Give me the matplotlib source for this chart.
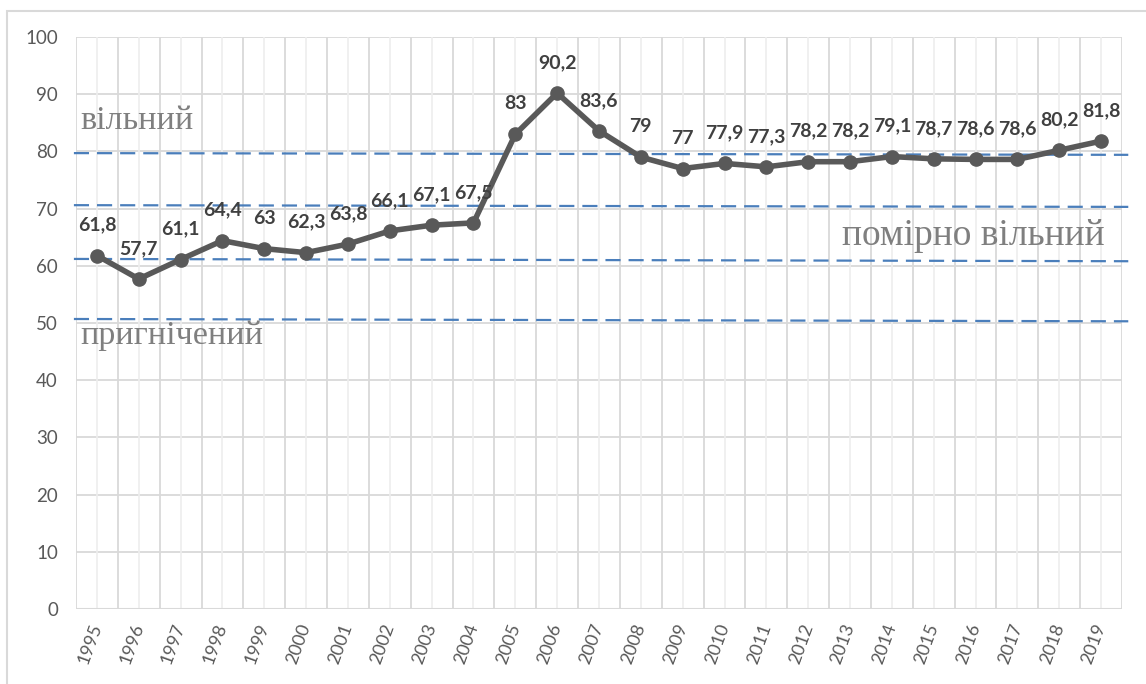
import matplotlib
matplotlib.use('Agg')
import matplotlib.pyplot as plt
from matplotlib.patches import Rectangle

# дані
years = [str(y) for y in range(1995, 2020)]
values = [61.8, 57.7, 61.1, 64.4, 63, 62.3, 63.8, 66.1, 67.1, 67.5,
          83, 90.2, 83.6, 79, 77, 77.9, 77.3, 78.2, 78.2, 79.1,
          78.7, 78.6, 78.6, 80.2, 81.8]
# межі зон (ліворуч, праворуч) - злегка нахилені, як на оригіналі
zone_lines = [(79.7, 79.4), (70.6, 70.3), (61.2, 60.8), (50.7, 50.3)]
zone_names = ['вільний', 'помірно вільний', 'пригнічений']
zone_pos = [(-0.4, 85.4, 'left', 24.5), (24.09, 65.2, 'right', 27),
            (-0.4, 47.8, 'left', 24.5)]

W, H = 1146, 684
fig = plt.figure(figsize=(W / 100, H / 100), dpi=100)
ax = fig.add_axes([76 / W, 1 - 609 / H, (1122 - 76) / W, (609 - 37) / H])

# рамка навколо діаграми
fig.patches.append(Rectangle((7 / W, -0.1), 1.2, 1 - 11 / H + 0.1,
                             transform=fig.transFigure, fill=False,
                             edgecolor='#d9d9d9', linewidth=1.5))

n = len(years)
x = list(range(n))
ax.set_xlim(-0.5, n - 0.5)
ax.set_ylim(0, 100)
ax.set_yticks(range(0, 101, 10))
ax.set_xticks(x)
ax.set_xticklabels(years)

# сітка
for v in range(10, 101, 10):
    ax.axhline(v, color='#d9d9d9', lw=1.3, zorder=0)
for i in range(-1, n):
    ax.axvline(i + 0.5, color='#d9d9d9', lw=1.3, zorder=0)
for i in x:
    ax.axvline(i, color='#eeeeee', lw=1.2, zorder=0)
ax.axhline(0, color='#d9d9d9', lw=1.5, zorder=0)

for s in ax.spines.values():
    s.set_visible(False)
ax.tick_params(axis='both', which='both', length=0)
ax.tick_params(axis='y', labelsize=13.5, labelcolor='#595959', pad=13)
ax.tick_params(axis='x', labelsize=13, labelcolor='#595959', pad=11)
for lab in ax.get_yticklabels() + ax.get_xticklabels():
    lab.set_family('Lato')
for lab in ax.get_xticklabels():
    lab.set_rotation(70)
    lab.set_ha('right')
    lab.set_va('center')
    lab.set_rotation_mode('anchor')

# пунктирні межі зон
for left, right in zone_lines:
    ax.plot([-0.55, n - 0.35], [left, right], color='#4a7ebb', lw=1.6,
            dashes=(6.8, 3.6), clip_on=False, zorder=1)

# назви зон
for name, (px, py, ha, fs) in zip(zone_names, zone_pos):
    ax.text(px, py, name, fontsize=fs, family='Liberation Serif',
            color='#7f7f7f', ha=ha, va='center', zorder=2)

# лінія даних
ax.plot(x, values, color='#595959', lw=4, marker='o', markersize=9.5,
        zorder=4, solid_joinstyle='round')
for xi, v in zip(x, values):
    txt = ('%g' % v).replace('.', ',')
    ax.annotate(txt, (xi, v), xytext=(0, 22), textcoords='offset points',
                ha='center', va='center', fontsize=14, fontweight='bold',
                family='Lato', color='#404040', zorder=5)

fig.savefig('out.png', dpi=100)
